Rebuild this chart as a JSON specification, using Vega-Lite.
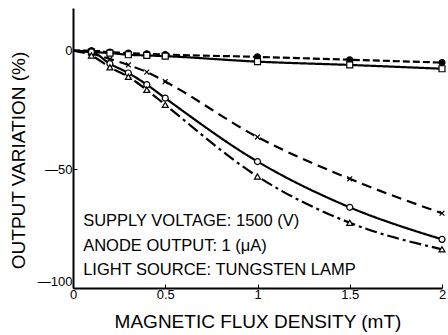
{
  "$schema": "https://vega.github.io/schema/vega-lite/v6.json",
  "width": 369,
  "height": 280,
  "autosize": "none",
  "padding": {"left": 73, "top": 8, "right": 6, "bottom": 47},
  "config": {
    "view": {"stroke": null},
    "font": "Liberation Sans",
    "axis": {"grid": false, "domainColor": "black", "domainWidth": 2, "tickColor": "black", "tickWidth": 1, "labelColor": "black", "titleColor": "black", "labelFont": "Liberation Sans", "titleFont": "Liberation Sans", "titleFontWeight": "normal"}
  },
  "datasets": {
    "pts": [
      {"s": "a", "x": 0, "y": 0}, {"s": "a", "x": 0.1, "y": 0}, {"s": "a", "x": 0.2, "y": -0.6}, {"s": "a", "x": 0.3, "y": -1}, {"s": "a", "x": 0.4, "y": -1.3}, {"s": "a", "x": 0.5, "y": -1.6}, {"s": "a", "x": 1, "y": -2.6}, {"s": "a", "x": 1.5, "y": -3.8}, {"s": "a", "x": 2, "y": -5},
      {"s": "b", "x": 0, "y": 0}, {"s": "b", "x": 0.1, "y": -0.5}, {"s": "b", "x": 0.2, "y": -1}, {"s": "b", "x": 0.3, "y": -1.7}, {"s": "b", "x": 0.4, "y": -2}, {"s": "b", "x": 0.5, "y": -2.3}, {"s": "b", "x": 1, "y": -4.6}, {"s": "b", "x": 1.5, "y": -6}, {"s": "b", "x": 2, "y": -7.6},
      {"s": "c", "x": 0, "y": 0}, {"s": "c", "x": 0.1, "y": -1.2}, {"s": "c", "x": 0.2, "y": -3.5}, {"s": "c", "x": 0.3, "y": -6}, {"s": "c", "x": 0.4, "y": -9}, {"s": "c", "x": 0.5, "y": -13}, {"s": "c", "x": 1, "y": -36.4}, {"s": "c", "x": 1.5, "y": -54}, {"s": "c", "x": 2, "y": -68.5},
      {"s": "d", "x": 0, "y": 0}, {"s": "d", "x": 0.1, "y": -0.5}, {"s": "d", "x": 0.2, "y": -5.5}, {"s": "d", "x": 0.3, "y": -9.4}, {"s": "d", "x": 0.4, "y": -14.3}, {"s": "d", "x": 0.5, "y": -20}, {"s": "d", "x": 1, "y": -46.7}, {"s": "d", "x": 1.5, "y": -66}, {"s": "d", "x": 2, "y": -79.5},
      {"s": "e", "x": 0, "y": 0}, {"s": "e", "x": 0.1, "y": -2}, {"s": "e", "x": 0.2, "y": -7}, {"s": "e", "x": 0.3, "y": -11}, {"s": "e", "x": 0.4, "y": -16.5}, {"s": "e", "x": 0.5, "y": -22.8}, {"s": "e", "x": 1, "y": -53}, {"s": "e", "x": 1.5, "y": -72.5}, {"s": "e", "x": 2, "y": -83.7}
    ],
    "notes": [
      {"x": 0.055, "y": -71.7, "t": "SUPPLY VOLTAGE: 1500 (V)"},
      {"x": 0.055, "y": -82.2, "t": "ANODE OUTPUT: 1 (μA)"},
      {"x": 0.055, "y": -92.4, "t": "LIGHT SOURCE: TUNGSTEN LAMP"}
    ]
  },
  "layer": [
    {
      "data": {"name": "pts"},
      "mark": {"type": "line", "color": "black", "strokeWidth": 2.2, "interpolate": "monotone"},
      "encoding": {
        "x": {"field": "x", "type": "quantitative", "scale": {"domain": [0, 2], "nice": false},
          "axis": {"values": [0, 0.5, 1, 1.5, 2], "labelExpr": "datum.value == 0 ? '0' : format(datum.value, '')", "tickSize": -4, "labelFontSize": 13, "labelPadding": 4, "title": "MAGNETIC FLUX DENSITY (mT)", "titleFontSize": 19, "titlePadding": 11, "labelFlush": false}},
        "y": {"field": "y", "type": "quantitative", "scale": {"domain": [-100, 18], "nice": false},
          "axis": {"values": [-100, -50, 0], "labelExpr": "datum.value < 0 ? '—' + abs(datum.value) : '0'", "tickSize": -4, "labelFontSize": 13, "labelPadding": 5,
            "labelBaseline": {"condition": {"test": "datum.value == -100", "value": "bottom"}, "value": "middle"},
            "title": "OUTPUT VARIATION (%)", "titleFontSize": 19, "titlePadding": 9, "titleY": 152}},
        "detail": {"field": "s"},
        "strokeDash": {"field": "s", "type": "nominal", "legend": null,
          "scale": {"domain": ["a", "b", "c", "d", "e"], "range": [[7, 3], [1, 0], [10, 6], [1, 0], [12, 4, 3, 4]]}}
      }
    },
    {
      "data": {"name": "pts"},
      "transform": [{"filter": "datum.x > 0"}],
      "mark": {"type": "point", "color": "black", "strokeWidth": 1.2, "size": 36, "opacity": 1},
      "encoding": {
        "x": {"field": "x", "type": "quantitative"},
        "y": {"field": "y", "type": "quantitative"},
        "shape": {"field": "s", "type": "nominal", "legend": null,
          "scale": {"domain": ["a", "b", "c", "d", "e"], "range": ["circle", "square", "M-0.8,-0.8L0.8,0.8M-0.8,0.8L0.8,-0.8", "circle", "triangle-up"]}},
        "fill": {"field": "s", "type": "nominal", "legend": null,
          "scale": {"domain": ["a", "b", "c", "d", "e"], "range": ["black", "white", "white", "white", "white"]}}
      }
    },
    {
      "data": {"name": "notes"},
      "mark": {"type": "text", "align": "left", "baseline": "middle", "fontSize": 16.5, "color": "black", "font": "Liberation Sans"},
      "encoding": {
        "x": {"field": "x", "type": "quantitative"},
        "y": {"field": "y", "type": "quantitative"},
        "text": {"field": "t"}
      }
    }
  ]
}
